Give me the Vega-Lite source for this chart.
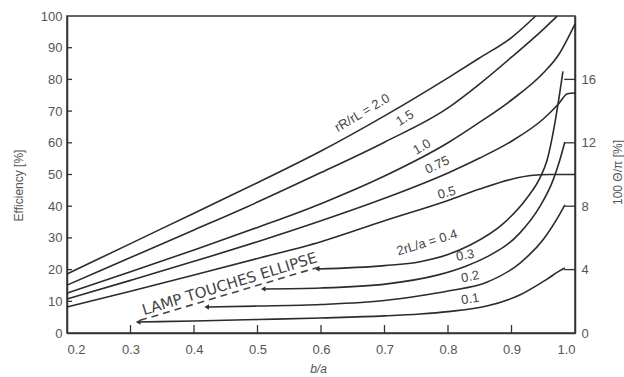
{
  "$schema": "https://vega.github.io/schema/vega-lite/v6.json",
  "width": 508,
  "height": 317,
  "autosize": {"type": "none"},
  "padding": {"left": 67, "top": 16, "right": 49, "bottom": 44},
  "background": "white",
  "config": {
    "view": {"stroke": "#333", "strokeWidth": 1.5},
    "font": "Liberation Sans",
    "axis": {
      "grid": false,
      "ticks": false,
      "labelOverlap": false,
      "domainColor": "#333",
      "domainWidth": 1.5,
      "labelColor": "#555",
      "labelFont": "Liberation Sans",
      "labelFontSize": 13,
      "titleColor": "#555",
      "titleFont": "Liberation Sans",
      "titleFontWeight": "normal",
      "titleFontSize": 12
    }
  },
  "datasets": {
    "efficiency": [
      {"curve": "2.0", "ba": 0.2, "eff": 18.6}, {"curve": "2.0", "ba": 0.3, "eff": 28.2}, {"curve": "2.0", "ba": 0.4, "eff": 37.8}, {"curve": "2.0", "ba": 0.5, "eff": 47.4}, {"curve": "2.0", "ba": 0.6, "eff": 57.4}, {"curve": "2.0", "ba": 0.7, "eff": 68.5}, {"curve": "2.0", "ba": 0.8, "eff": 80.5}, {"curve": "2.0", "ba": 0.85, "eff": 86.8}, {"curve": "2.0", "ba": 0.9, "eff": 93.2}, {"curve": "2.0", "ba": 0.938, "eff": 100},
      {"curve": "1.5", "ba": 0.2, "eff": 15.1}, {"curve": "1.5", "ba": 0.3, "eff": 23.8}, {"curve": "1.5", "ba": 0.4, "eff": 32.5}, {"curve": "1.5", "ba": 0.5, "eff": 41.3}, {"curve": "1.5", "ba": 0.6, "eff": 50.6}, {"curve": "1.5", "ba": 0.7, "eff": 60.2}, {"curve": "1.5", "ba": 0.8, "eff": 71.0}, {"curve": "1.5", "ba": 0.85, "eff": 78.6}, {"curve": "1.5", "ba": 0.9, "eff": 87.0}, {"curve": "1.5", "ba": 0.95, "eff": 95.8}, {"curve": "1.5", "ba": 0.972, "eff": 100},
      {"curve": "1.0", "ba": 0.2, "eff": 12.6}, {"curve": "1.0", "ba": 0.3, "eff": 19.3}, {"curve": "1.0", "ba": 0.4, "eff": 26.2}, {"curve": "1.0", "ba": 0.5, "eff": 33.3}, {"curve": "1.0", "ba": 0.6, "eff": 40.8}, {"curve": "1.0", "ba": 0.7, "eff": 49.5}, {"curve": "1.0", "ba": 0.8, "eff": 60.0}, {"curve": "1.0", "ba": 0.85, "eff": 66.5}, {"curve": "1.0", "ba": 0.9, "eff": 73.5}, {"curve": "1.0", "ba": 0.95, "eff": 82.0}, {"curve": "1.0", "ba": 0.975, "eff": 88.0}, {"curve": "1.0", "ba": 0.99, "eff": 93.5}, {"curve": "1.0", "ba": 1.0, "eff": 97.5},
      {"curve": "0.75", "ba": 0.2, "eff": 10.7}, {"curve": "0.75", "ba": 0.3, "eff": 16.6}, {"curve": "0.75", "ba": 0.4, "eff": 22.6}, {"curve": "0.75", "ba": 0.5, "eff": 28.8}, {"curve": "0.75", "ba": 0.6, "eff": 35.4}, {"curve": "0.75", "ba": 0.7, "eff": 42.5}, {"curve": "0.75", "ba": 0.8, "eff": 50.5}, {"curve": "0.75", "ba": 0.85, "eff": 55.2}, {"curve": "0.75", "ba": 0.9, "eff": 60.5}, {"curve": "0.75", "ba": 0.95, "eff": 67.5}, {"curve": "0.75", "ba": 0.975, "eff": 72.5}, {"curve": "0.75", "ba": 0.988, "eff": 75.5}, {"curve": "0.75", "ba": 1.0, "eff": 75.7},
      {"curve": "0.5", "ba": 0.2, "eff": 8.2}, {"curve": "0.5", "ba": 0.3, "eff": 13.2}, {"curve": "0.5", "ba": 0.4, "eff": 18.3}, {"curve": "0.5", "ba": 0.5, "eff": 23.5}, {"curve": "0.5", "ba": 0.6, "eff": 28.8}, {"curve": "0.5", "ba": 0.7, "eff": 35.4}, {"curve": "0.5", "ba": 0.8, "eff": 41.8}, {"curve": "0.5", "ba": 0.85, "eff": 45.4}, {"curve": "0.5", "ba": 0.9, "eff": 48.5}, {"curve": "0.5", "ba": 0.93, "eff": 49.7}, {"curve": "0.5", "ba": 0.96, "eff": 50}, {"curve": "0.5", "ba": 1.0, "eff": 50}
    ],
    "flux": [
      {"curve": "0.1", "ba": 0.312, "q": 0.69}, {"curve": "0.1", "ba": 0.4, "q": 0.76}, {"curve": "0.1", "ba": 0.5, "q": 0.85}, {"curve": "0.1", "ba": 0.6, "q": 0.95}, {"curve": "0.1", "ba": 0.7, "q": 1.08}, {"curve": "0.1", "ba": 0.756, "q": 1.2}, {"curve": "0.1", "ba": 0.8, "q": 1.35}, {"curve": "0.1", "ba": 0.861, "q": 1.7}, {"curve": "0.1", "ba": 0.913, "q": 2.4}, {"curve": "0.1", "ba": 0.956, "q": 3.4}, {"curve": "0.1", "ba": 0.975, "q": 3.9}, {"curve": "0.1", "ba": 0.984, "q": 4.1},
      {"curve": "0.2", "ba": 0.42, "q": 1.64}, {"curve": "0.2", "ba": 0.5, "q": 1.7}, {"curve": "0.2", "ba": 0.6, "q": 1.8}, {"curve": "0.2", "ba": 0.7, "q": 2.05}, {"curve": "0.2", "ba": 0.756, "q": 2.35}, {"curve": "0.2", "ba": 0.8, "q": 2.65}, {"curve": "0.2", "ba": 0.861, "q": 3.2}, {"curve": "0.2", "ba": 0.913, "q": 4.4}, {"curve": "0.2", "ba": 0.95, "q": 5.9}, {"curve": "0.2", "ba": 0.976, "q": 7.5}, {"curve": "0.2", "ba": 0.984, "q": 8.08},
      {"curve": "0.3", "ba": 0.509, "q": 2.78}, {"curve": "0.3", "ba": 0.6, "q": 2.84}, {"curve": "0.3", "ba": 0.704, "q": 3.1}, {"curve": "0.3", "ba": 0.783, "q": 3.65}, {"curve": "0.3", "ba": 0.827, "q": 4.2}, {"curve": "0.3", "ba": 0.861, "q": 4.8}, {"curve": "0.3", "ba": 0.913, "q": 6.3}, {"curve": "0.3", "ba": 0.945, "q": 8.0}, {"curve": "0.3", "ba": 0.965, "q": 9.6}, {"curve": "0.3", "ba": 0.976, "q": 10.9}, {"curve": "0.3", "ba": 0.984, "q": 12.05},
      {"curve": "0.4", "ba": 0.594, "q": 4.04}, {"curve": "0.4", "ba": 0.7, "q": 4.25}, {"curve": "0.4", "ba": 0.756, "q": 4.5}, {"curve": "0.4", "ba": 0.8, "q": 4.95}, {"curve": "0.4", "ba": 0.835, "q": 5.55}, {"curve": "0.4", "ba": 0.887, "q": 6.9}, {"curve": "0.4", "ba": 0.924, "q": 8.5}, {"curve": "0.4", "ba": 0.945, "q": 9.8}, {"curve": "0.4", "ba": 0.956, "q": 10.9}, {"curve": "0.4", "ba": 0.969, "q": 13.4}, {"curve": "0.4", "ba": 0.981, "q": 16.5}
    ],
    "effLabels": [
      {"label": "rR/rL = 2.0", "ba": 0.665, "eff": 69.4},
      {"label": "1.5", "ba": 0.732, "eff": 67.8},
      {"label": "1.0", "ba": 0.759, "eff": 58.7},
      {"label": "0.75", "ba": 0.783, "eff": 53.0},
      {"label": "0.5", "ba": 0.798, "eff": 44.2}
    ],
    "fluxLabels": [
      {"label": "2rL/a = 0.4", "ba": 0.767, "q": 5.7},
      {"label": "0.3", "ba": 0.827, "q": 4.9},
      {"label": "0.2", "ba": 0.835, "q": 3.55},
      {"label": "0.1", "ba": 0.835, "q": 2.15},
      {"label": "LAMP TOUCHES ELLIPSE", "ba": 0.456, "q": 3.1}
    ],
    "lamp": [
      {"ba": 0.315, "q": 0.8},
      {"ba": 0.6, "q": 4.2}
    ],
    "xTicks": [
      {"ba": 0.3, "eff": 0, "effEnd": 2.5}, {"ba": 0.4, "eff": 0, "effEnd": 2.5}, {"ba": 0.5, "eff": 0, "effEnd": 2.5}, {"ba": 0.6, "eff": 0, "effEnd": 2.5}, {"ba": 0.7, "eff": 0, "effEnd": 2.5}, {"ba": 0.8, "eff": 0, "effEnd": 2.5}, {"ba": 0.9, "eff": 0, "effEnd": 2.5}
    ],
    "effTicks": [
      {"eff": 10, "ba": 0.2, "baEnd": 0.208}, {"eff": 20, "ba": 0.2, "baEnd": 0.208}, {"eff": 30, "ba": 0.2, "baEnd": 0.208}, {"eff": 40, "ba": 0.2, "baEnd": 0.208}, {"eff": 50, "ba": 0.2, "baEnd": 0.208}, {"eff": 60, "ba": 0.2, "baEnd": 0.208}, {"eff": 70, "ba": 0.2, "baEnd": 0.208}, {"eff": 80, "ba": 0.2, "baEnd": 0.208}, {"eff": 90, "ba": 0.2, "baEnd": 0.208}
    ],
    "fluxTicks": [
      {"q": 4, "ba": 0.983, "baEnd": 1.0}, {"q": 8, "ba": 0.983, "baEnd": 1.0}, {"q": 12, "ba": 0.983, "baEnd": 1.0}, {"q": 16, "ba": 0.983, "baEnd": 1.0}
    ]
  },
  "encoding": {
    "x": {
      "field": "ba",
      "type": "quantitative",
      "scale": {"domain": [0.2, 1.0], "nice": false, "zero": false},
      "axis": {
        "values": [0.2, 0.3, 0.4, 0.5, 0.6, 0.7, 0.8, 0.9, 1.0],
        "format": ".1f",
        "labelPadding": 10,
        "title": "b/a",
        "titleFontStyle": "italic",
        "titleX": 251,
        "titleY": 35,
        "titleBaseline": "middle"
      }
    }
  },
  "layer": [
    {
      "encoding": {
        "y": {
          "field": "eff",
          "type": "quantitative",
          "scale": {"domain": [0, 100], "nice": false},
          "axis": {
            "orient": "left",
            "values": [0, 10, 20, 30, 40, 50, 60, 70, 80, 90, 100],
            "labelPadding": 5,
            "title": "Efficiency [%]",
            "titleX": -49,
            "titleY": 169,
            "titleAlign": "center",
            "titleBaseline": "middle",
            "titleAngle": 270
          }
        }
      },
      "layer": [
        {
          "data": {"name": "efficiency"},
          "mark": {"type": "line", "interpolate": "monotone", "stroke": "#2b2b2b", "strokeWidth": 1.6},
          "encoding": {"detail": {"field": "curve"}}
        },
        {
          "data": {"name": "xTicks"},
          "mark": {"type": "rule", "color": "#333", "strokeWidth": 1.3},
          "encoding": {"y2": {"field": "effEnd"}}
        },
        {
          "data": {"name": "effTicks"},
          "mark": {"type": "rule", "color": "#333", "strokeWidth": 1.3},
          "encoding": {"x2": {"field": "baEnd"}}
        },
        {
          "data": {"name": "effLabels"},
          "transform": [{"filter": {"field": "label", "oneOf": ["rR/rL = 2.0", "1.5", "1.0"]}}],
          "mark": {"type": "text", "angle": -31, "fontSize": 13, "color": "#444", "align": "center", "baseline": "middle"},
          "encoding": {"text": {"field": "label"}}
        },
        {
          "data": {"name": "effLabels"},
          "transform": [{"filter": {"field": "label", "oneOf": ["0.75"]}}],
          "mark": {"type": "text", "angle": -25, "fontSize": 13, "color": "#444", "align": "center", "baseline": "middle"},
          "encoding": {"text": {"field": "label"}}
        },
        {
          "data": {"name": "effLabels"},
          "transform": [{"filter": {"field": "label", "oneOf": ["0.5"]}}],
          "mark": {"type": "text", "angle": -15, "fontSize": 13, "color": "#444", "align": "center", "baseline": "middle"},
          "encoding": {"text": {"field": "label"}}
        }
      ]
    },
    {
      "encoding": {
        "y": {
          "field": "q",
          "type": "quantitative",
          "scale": {"domain": [0, 20], "nice": false},
          "axis": {
            "orient": "right",
            "values": [0, 4, 8, 12, 16],
            "labelPadding": 6,
            "title": "100 Θ/π [%]",
            "titleX": 42,
            "titleY": 156,
            "titleAlign": "center",
            "titleBaseline": "middle",
            "titleAngle": 270
          }
        }
      },
      "layer": [
        {
          "data": {"name": "flux"},
          "mark": {"type": "line", "interpolate": "monotone", "stroke": "#2b2b2b", "strokeWidth": 1.6},
          "encoding": {"detail": {"field": "curve"}}
        },
        {
          "data": {"name": "fluxTicks"},
          "mark": {"type": "rule", "color": "#333", "strokeWidth": 1.3},
          "encoding": {"x2": {"field": "baEnd"}}
        },
        {
          "data": {"name": "flux"},
          "transform": [
            {"joinaggregate": [{"op": "min", "field": "ba", "as": "startBa"}], "groupby": ["curve"]},
            {"filter": "datum.ba == datum.startBa"}
          ],
          "mark": {"type": "point", "shape": "triangle-left", "filled": true, "size": 28, "color": "#333", "opacity": 1},
          "encoding": {}
        },
        {
          "data": {"name": "lamp"},
          "mark": {"type": "line", "stroke": "#444", "strokeWidth": 1.6, "strokeDash": [7, 5]},
          "encoding": {}
        },
        {
          "data": {"name": "fluxLabels"},
          "transform": [{"filter": {"field": "label", "oneOf": ["2rL/a = 0.4"]}}],
          "mark": {"type": "text", "angle": -17, "fontSize": 13, "color": "#444", "align": "center", "baseline": "middle"},
          "encoding": {"text": {"field": "label"}}
        },
        {
          "data": {"name": "fluxLabels"},
          "transform": [{"filter": {"field": "label", "oneOf": ["LAMP TOUCHES ELLIPSE"]}}],
          "mark": {"type": "text", "angle": -17, "font": "DejaVu Sans", "fontSize": 15, "color": "#444", "align": "center", "baseline": "middle"},
          "encoding": {"text": {"field": "label"}}
        },
        {
          "data": {"name": "fluxLabels"},
          "transform": [{"filter": {"field": "label", "oneOf": ["0.3", "0.2"]}}],
          "mark": {"type": "text", "angle": -11, "fontSize": 13, "color": "#444", "align": "center", "baseline": "middle"},
          "encoding": {"text": {"field": "label"}}
        },
        {
          "data": {"name": "fluxLabels"},
          "transform": [{"filter": {"field": "label", "oneOf": ["0.1"]}}],
          "mark": {"type": "text", "angle": -8, "fontSize": 13, "color": "#444", "align": "center", "baseline": "middle"},
          "encoding": {"text": {"field": "label"}}
        }
      ]
    }
  ],
  "resolve": {"scale": {"y": "independent"}, "axis": {"y": "independent"}}
}
